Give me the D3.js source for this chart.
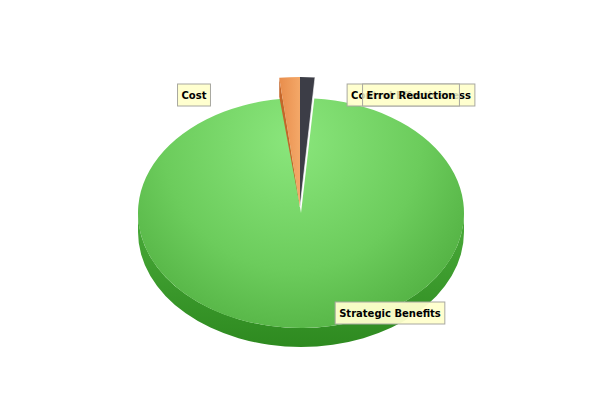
<!DOCTYPE html>
<html>
<head>
<meta charset="utf-8">
<script src="https://cdn.jsdelivr.net/npm/d3@7"></script>
<style>
  html, body { margin: 0; padding: 0; background: #ffffff; }
  svg { display: block; }
  text { font-family: "DejaVu Sans", sans-serif; font-weight: bold; font-size: 10px; }
</style>
</head>
<body>
<svg id="chart" width="600" height="400"></svg>
<script>
// ---- data ----
const categories = ["Control Effectiveness", "Error Reduction", "Strategic Benefits", "Cost"];
const values     = [0, 1.3, 96.9, 1.8];
const exploded   = [true, true, false, true];
const wallColors = ["#2a6aa8", "#1e1f24", "#3e9e2e", "#c4662a"];

// ---- layout ----
const W = 600, H = 400;
const cx = 301, cy = 213, rx = 163, ry = 115, depth = 19;
const ex = { cx: 300, cy: 207, rx: 184, ry: 130 };
// label anchors (center x, center y) per category index
const labelLayout = [
  { x: 411, y: 95 },
  { x: 411, y: 95 },
  { x: 390, y: 313 },
  { x: 194, y: 95 }
];

const svg = d3.select("#chart");
const defs = svg.append("defs");

const rg = defs.append("radialGradient").attr("id", "greenTop")
  .attr("gradientUnits", "userSpaceOnUse")
  .attr("cx", 292).attr("cy", 140).attr("r", 235)
  .attr("fx", 292).attr("fy", 140);
rg.append("stop").attr("offset", 0).attr("stop-color", "#8ae67c");
rg.append("stop").attr("offset", 0.55).attr("stop-color", "#6ccc5c");
rg.append("stop").attr("offset", 1).attr("stop-color", "#4aa83a");

const sg = defs.append("linearGradient").attr("id", "greenSide")
  .attr("x1", 0).attr("y1", 0).attr("x2", 0).attr("y2", 1);
sg.append("stop").attr("offset", 0).attr("stop-color", "#4aab3a");
sg.append("stop").attr("offset", 1).attr("stop-color", "#2e8a20");

const og = defs.append("linearGradient").attr("id", "orangeTop")
  .attr("x1", 0).attr("y1", 0).attr("x2", 1).attr("y2", 0);
og.append("stop").attr("offset", 0).attr("stop-color", "#e88d4c");
og.append("stop").attr("offset", 1).attr("stop-color", "#f4a868");

const fills = ["#3b8fd9", "#3c3d46", "url(#greenTop)", "url(#orangeTop)"];

const pie = d3.pie().sort(null).startAngle(0).endAngle(2 * Math.PI).value(d => d);
const arcs = pie(values);

function pt(c, t, dy = 0) {
  return [c.cx + c.rx * Math.sin(t), c.cy - c.ry * Math.cos(t) + dy];
}
function topPath(c, a0, a1) {
  const p0 = pt(c, a0), p1 = pt(c, a1);
  const large = (a1 - a0) > Math.PI ? 1 : 0;
  return `M${c.cx},${c.cy}L${p0[0]},${p0[1]}A${c.rx},${c.ry} 0 ${large} 1 ${p1[0]},${p1[1]}Z`;
}
function wallPath(c, a) {
  const p = pt(c, a);
  return `M${c.cx},${c.cy}L${p[0]},${p[1]}L${p[0]},${p[1] + depth}Z`;
}

const base = { cx, cy, rx, ry };
const g = svg.append("g");

// non-exploded slices: side wall of front half then top face
arcs.forEach((a, i) => {
  if (exploded[i] || a.endAngle - a.startAngle <= 0) return;
  const s0 = Math.max(a.startAngle, Math.PI / 2), s1 = Math.min(a.endAngle, 3 * Math.PI / 2);
  if (s1 > s0) {
    const pA = pt(base, s0), pM = pt(base, (s0 + s1) / 2), pB = pt(base, s1);
    const d = `M${pA[0]},${pA[1]}A${rx},${ry} 0 0 1 ${pM[0]},${pM[1]}A${rx},${ry} 0 0 1 ${pB[0]},${pB[1]}` +
      `L${pB[0]},${pB[1] + depth}A${rx},${ry} 0 0 0 ${pM[0]},${pM[1] + depth}A${rx},${ry} 0 0 0 ${pA[0]},${pA[1] + depth}Z`;
    g.append("path").attr("d", d).attr("fill", "url(#greenSide)");
  }
  g.append("path").attr("d", topPath(base, a.startAngle, a.endAngle)).attr("fill", fills[i]);
});

// exploded slices
arcs.forEach((a, i) => {
  if (!exploded[i] || a.endAngle - a.startAngle <= 0) return;
  g.append("path").attr("d", wallPath(ex, a.startAngle)).attr("fill", wallColors[i]);
  g.append("path").attr("d", topPath(ex, a.startAngle, a.endAngle)).attr("fill", fills[i]);
});
// light edge on the right side of the dark slice
arcs.forEach((a, i) => {
  if (i !== 1) return;
  const p = pt(ex, a.endAngle);
  g.append("line").attr("x1", ex.cx).attr("y1", ex.cy).attr("x2", p[0]).attr("y2", p[1])
    .attr("stroke", "#ffffff").attr("stroke-width", 0.8).attr("opacity", 0.8);
});

// labels
const lg = svg.append("g");
categories.forEach((name, i) => {
  const L = labelLayout[i];
  const grp = lg.append("g");
  const rect = grp.append("rect");
  const txt = grp.append("text").attr("x", L.x).attr("y", L.y + 3.6)
    .attr("text-anchor", "middle").attr("fill", "#000").text(name);
  const w = txt.node().getComputedTextLength() + 8;
  const h = 22;
  rect.attr("x", L.x - w / 2).attr("y", L.y - h / 2).attr("width", w).attr("height", h)
    .attr("fill", "#ffffcc").attr("fill-opacity", i === 1 ? 0.82 : 0.95)
    .attr("stroke", "#a8a8a0").attr("stroke-width", 1);
});
</script>
</body>
</html>
